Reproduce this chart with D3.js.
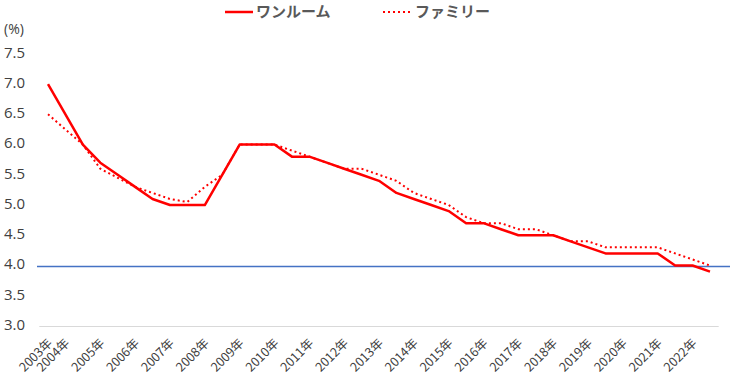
<!DOCTYPE html>
<html><head><meta charset="utf-8">
<script src="https://cdn.jsdelivr.net/npm/d3@7"></script>
<style>
html,body{margin:0;padding:0;background:#fff;}
svg{display:block;}
</style></head>
<body>
<script>
// Data
const categories = ["2003年","2004年","","2005年","","2006年","","2007年","","2008年","","2009年","","2010年","","2011年","","2012年","","2013年","","2014年","","2015年","","2016年","","2017年","","2018年","","2019年","","2020年","","2021年","","2022年",""];
const oneRoom = [7.0,6.5,6.0,5.7,5.5,5.3,5.1,5.0,5.0,5.0,5.5,6.0,6.0,6.0,5.8,5.8,5.7,5.6,5.5,5.4,5.2,5.1,5.0,4.9,4.7,4.7,4.6,4.5,4.5,4.5,4.4,4.3,4.2,4.2,4.2,4.2,4.0,4.0,3.9];
const family  = [6.5,6.25,6.0,5.6,5.45,5.3,5.2,5.1,5.05,5.3,5.5,6.0,6.0,6.0,5.9,5.8,5.7,5.6,5.6,5.5,5.4,5.2,5.1,5.0,4.8,4.7,4.7,4.6,4.6,4.5,4.4,4.4,4.3,4.3,4.3,4.3,4.2,4.1,4.0];
const yTicks = [3.0,3.5,4.0,4.5,5.0,5.5,6.0,6.5,7.0,7.5];
const refValue = 4.0;
const seriesNames = ["ワンルーム","ファミリー"];

const W = 730, H = 382;
const svg = d3.select("body").append("svg").attr("width", W).attr("height", H);

const idx = d3.range(categories.length);
const x = d3.scalePoint().domain(idx).range([39.3, 718.7]).padding(0.5);
const y = d3.scaleLinear().domain([3, 7.5]).range([326, 53.8]);

const red = "#FF0000";
const txt = "#404040";

// baseline (axis line)
svg.append("line").attr("x1", 39.3).attr("x2", 718.7)
  .attr("y1", Math.round(y(3)) + 0.5).attr("y2", Math.round(y(3)) + 0.5)
  .attr("stroke", "#D9D9D9").attr("stroke-width", 1);

// y tick labels
svg.append("g").selectAll("text").data(yTicks).join("text")
  .attr("x", 25).attr("y", d => y(d) - 1.5).attr("dy", "0.35em")
  .attr("text-anchor", "end")
  .attr("font-family", "'Open Sans', 'Noto Sans', sans-serif")
  .attr("font-size", 15).attr("fill", txt)
  .text(d => d.toFixed(1));

svg.append("text").attr("x", 4).attr("y", 29).attr("dy","0.35em")
  .attr("font-family", "'Open Sans', 'Noto Sans', sans-serif")
  .attr("font-size", 14).attr("fill", txt).text("(%)");

// x labels
svg.append("g").selectAll("text").data(idx.filter(i => categories[i] !== "")).join("text")
  .attr("transform", i => `translate(${x(i) + 5},${344}) rotate(-45)`)
  .attr("text-anchor", "end")
  .attr("font-family", "'Noto Sans CJK JP', sans-serif")
  .attr("font-size", 12.5).attr("fill", txt)
  .text(i => categories[i]);

// reference line at 4.0
const yRef = Math.round(y(refValue)) + 0.5;
svg.append("line").attr("x1", 37).attr("x2", 730)
  .attr("y1", yRef).attr("y2", yRef)
  .attr("stroke", "#4472C4").attr("stroke-width", 1.3);

const line = d3.line().x((d, i) => x(i)).y(d => y(d));

svg.append("path").datum(family).attr("d", line)
  .attr("fill", "none").attr("stroke", red).attr("stroke-width", 2)
  .attr("stroke-dasharray", "2,3");

svg.append("path").datum(oneRoom).attr("d", line)
  .attr("fill", "none").attr("stroke", red).attr("stroke-width", 2.5)
  .attr("stroke-linejoin", "round");

// legend
const lg = svg.append("g");
lg.append("line").attr("x1", 225).attr("x2", 253).attr("y1", 12).attr("y2", 12)
  .attr("stroke", red).attr("stroke-width", 2.5);
lg.append("text").attr("x", 256).attr("y", 12).attr("dy", "0.35em")
  .attr("font-family", "'Noto Sans CJK JP', sans-serif").attr("font-weight", "bold")
  .attr("font-size", 15).attr("fill", "#595959").text(seriesNames[0]);
lg.append("line").attr("x1", 383).attr("x2", 410).attr("y1", 12).attr("y2", 12)
  .attr("stroke", red).attr("stroke-width", 2).attr("stroke-dasharray", "2,3");
lg.append("text").attr("x", 415).attr("y", 12).attr("dy", "0.35em")
  .attr("font-family", "'Noto Sans CJK JP', sans-serif").attr("font-weight", "bold")
  .attr("font-size", 15).attr("fill", "#595959").text(seriesNames[1]);
</script>
</body></html>
